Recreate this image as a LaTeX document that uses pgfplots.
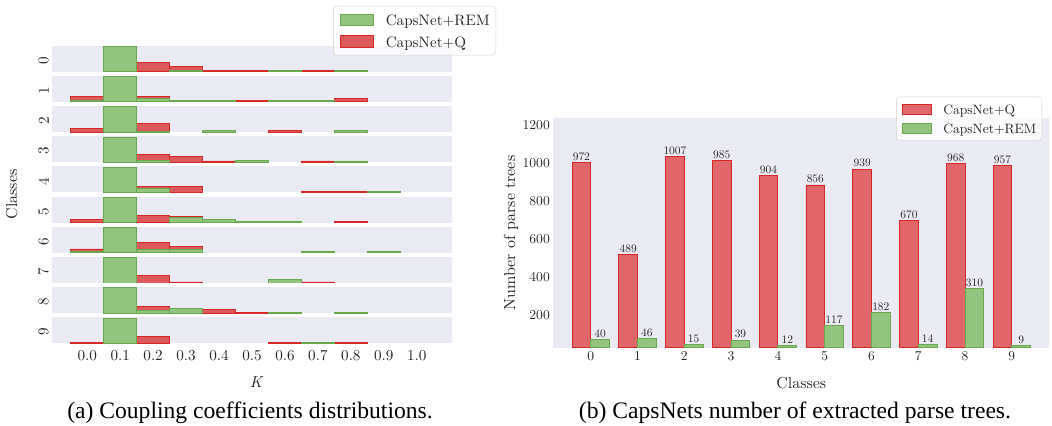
\documentclass[border=0pt]{standalone}
\usepackage{pgfplots}
\pgfplotsset{compat=1.18}
\usepackage{fontspec}
\setmainfont{lmroman10-regular}[Extension=.otf, ItalicFont=lmroman10-italic, BoldFont=lmroman10-bold]
\newfontfamily\capfont{Liberation Serif}
\definecolor{bgc}{HTML}{EAEAF2}
\definecolor{redL}{HTML}{DD5A5C}
\definecolor{redR}{HTML}{E0666A}
\definecolor{rede}{HTML}{D62728}
\definecolor{grnf}{HTML}{93C47D}
\definecolor{grne}{HTML}{6AA84F}
\definecolor{txt}{HTML}{262626}
\newcommand{\fL}{\fontsize{15.2}{18}\selectfont}
\newcommand{\fR}{\fontsize{13.6}{16}\selectfont}
\newcommand{\fLab}{\fontsize{16}{19}\selectfont}
\pgfplotsset{
  rowax/.style={
    scale only axis, width=399.4bp, height=26bp, anchor=north west,
    xmin=-0.106, xmax=1.106, ymin=0, ymax=1.03,
    axis background/.style={fill=bgc},
    axis line style={draw=none},
    xtick=\empty, ytick={0.5},
    major tick length=0,
    yticklabel style={rotate=90, anchor=south, font=\fL, text=txt, xshift=-1.5bp},
    xticklabel style={font=\fL, text=txt, yshift=-3.5bp},
  },
  legL/.style={legend image code/.code={\draw[##1, sharp corners, fill opacity=1, draw opacity=1] (0bp,-5.75bp) rectangle (33bp,5.75bp);}},
  legR/.style={legend image code/.code={\draw[##1, sharp corners, fill opacity=1, draw opacity=1] (0bp,-5bp) rectangle (29.5bp,5bp);}},
  redh/.style={ybar, bar width=0.1, bar shift=0, fill=redL, draw=rede, line width=0.9bp, legL},
  grnh/.style={ybar, bar width=0.1, bar shift=0, fill=grnf, draw=grne, line width=0.9bp, legL},
}
\newcommand{\histrow}[5]{%
\begin{axis}[rowax, at={(52.3bp,-#1bp)}, yticklabels={#2}, #5]
\addplot[redh] coordinates {#3};
\addplot[grnh] coordinates {#4};
\end{axis}}
\begin{document}
\begin{tikzpicture}
\useasboundingbox (0,0) rectangle (1052bp,-426bp);
% ---- (a) coupling coefficient distributions ----
\histrow{45.7}{0}{(0.2,0.38) (0.3,0.20) (0.4,0.05) (0.5,0.05) (0.7,0.05)}
  {(0.1,1.0) (0.3,0.06) (0.6,0.05) (0.8,0.05)}
  {reverse legend, legend cell align=left,
   legend style={at={(1.1109,2.527)}, anchor=north east, draw=black!18, rounded corners=3bp,
     fill=white, fill opacity=0.8, text opacity=1, font=\fL, text=txt,
     inner xsep=6bp, inner ysep=3.15bp, row sep=0.7bp,
     nodes={inner sep=0bp, text height=16.5bp, text depth=4.5bp},
     /tikz/every odd column/.append style={column sep=12.3bp}},
   legend entries={CapsNet+Q, CapsNet+REM}}
\histrow{75.88}{1}{(0.0,0.21) (0.2,0.21) (0.5,0.05) (0.6,0.05) (0.8,0.14)}
  {(0.0,0.05) (0.1,1.0) (0.2,0.15) (0.3,0.06) (0.4,0.06) (0.6,0.05) (0.7,0.05)}{}
\histrow{106.06}{2}{(0.0,0.13) (0.2,0.34) (0.6,0.06) (0.8,0.05)}
  {(0.1,1.0) (0.2,0.04) (0.4,0.06) (0.8,0.06)}{}
\histrow{136.24}{3}{(0.2,0.30) (0.3,0.21) (0.4,0.05) (0.7,0.05)}
  {(0.1,1.0) (0.2,0.06) (0.5,0.06) (0.8,0.05)}{}
\histrow{166.42}{4}{(0.2,0.25) (0.3,0.25) (0.7,0.05) (0.8,0.05)}
  {(0.1,1.0) (0.2,0.15) (0.9,0.05)}{}
\histrow{196.6}{5}{(0.0,0.14) (0.2,0.30) (0.3,0.24) (0.6,0.05) (0.8,0.05)}
  {(0.1,1.0) (0.3,0.21) (0.4,0.13) (0.5,0.04) (0.6,0.05)}{}
\histrow{226.78}{6}{(0.0,0.15) (0.2,0.41) (0.3,0.26) (0.9,0.04)}
  {(0.0,0.07) (0.1,1.0) (0.2,0.12) (0.3,0.13) (0.7,0.04) (0.9,0.05)}{}
\histrow{256.96}{7}{(0.2,0.29) (0.3,0.04) (0.7,0.04)}
  {(0.1,1.0) (0.6,0.14)}{}
\histrow{287.14}{8}{(0.2,0.25) (0.4,0.13) (0.5,0.04)}
  {(0.1,1.0) (0.2,0.11) (0.3,0.20) (0.6,0.04) (0.8,0.04)}{}
\histrow{317.32}{9}{(0.0,0.04) (0.2,0.26) (0.6,0.04) (0.8,0.04)}
  {(0.1,1.0) (0.7,0.04)}
  {xtick={0,0.1,...,1.0}, xticklabels={0.0,0.1,0.2,0.3,0.4,0.5,0.6,0.7,0.8,0.9,1.0}}
\node[rotate=90, font=\fLab, text=txt] at (11.7bp,-194.5bp) {Classes};
\node[font=\fLab, text=txt] at (256.7bp,-381.7bp) {\textit{K}};
% ---- (b) number of extracted parse trees ----
\begin{axis}[
  scale only axis, width=496bp, height=229.2bp, at={(553.3bp,-118.3bp)}, anchor=north west,
  xmin=-0.8, xmax=9.8, ymin=28, ymax=1235,
  axis background/.style={fill=bgc}, axis line style={draw=none}, major tick length=0,
  xtick={0,...,9}, ytick={200,400,...,1200},
  /pgf/number format/1000 sep={},
  /pgf/number format/assume math mode=true,
  tick label style={font=\fR, text=txt},
  xlabel={Classes}, ylabel={Number of parse trees},
  label style={font=\fLab, text=txt},
  xlabel style={at={(axis description cs:0.5,-0.157)}, anchor=center},
  ylabel style={at={(axis description cs:-0.0853,0.5)}, anchor=center},
  ybar, bar width=0.4,
  y filter/.expression={y+28},
  point meta=rawy,
  nodes near coords,
  nodes near coords style={font=\fontsize{11.5}{13}\selectfont, text=txt, inner sep=1.5bp},
  legend cell align=left,
  legend style={at={(0.9853,1.0942)}, anchor=north east, draw=black!18, rounded corners=3bp,
     fill=white, fill opacity=0.8, text opacity=1, font=\fR, text=txt,
     inner xsep=5.5bp, inner ysep=2.85bp, row sep=0bp,
     nodes={inner sep=0bp, text height=14.8bp, text depth=4bp},
     /tikz/every odd column/.append style={column sep=11bp}},
]
\addplot[fill=redR, draw=rede, line width=0.9bp, bar shift=-0.2, legR]
  coordinates {(0,972) (1,489) (2,1007) (3,985) (4,904) (5,856) (6,939) (7,670) (8,968) (9,957)};
\addplot[fill=grnf, draw=grne, line width=0.9bp, bar shift=0.2, legR]
  coordinates {(0,40) (1,46) (2,15) (3,39) (4,12) (5,117) (6,182) (7,14) (8,310) (9,9)};
\legend{CapsNet+Q, CapsNet+REM}
\end{axis}
% ---- captions ----
\node[anchor=base, font=\capfont\fontsize{23.7}{28}\selectfont] at (250bp,-418.4bp) {(a) Coupling coefficients distributions.};
\node[anchor=base, font=\capfont\fontsize{23.7}{28}\selectfont] at (795bp,-418.4bp) {(b) CapsNets number of extracted parse trees.};
\end{tikzpicture}
\end{document}
